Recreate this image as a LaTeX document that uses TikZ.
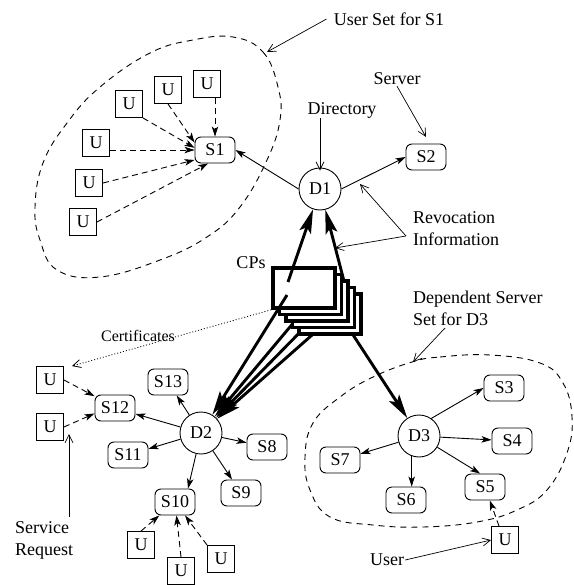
\documentclass[tikz,border=0pt]{standalone}
\usepackage{fontspec}
\setmainfont{Liberation Serif}
\usetikzlibrary{arrows.meta}
\begin{document}
\begin{tikzpicture}[x=1pt,y=-1pt,
  font=\fontsize{18}{22}\selectfont,
  srv/.style={draw, line width=0.9pt, rounded corners=6pt, minimum width=40pt, minimum height=26pt, inner sep=2pt},
  usr/.style={draw, line width=0.9pt, minimum size=27pt, inner sep=0pt},
  dirnode/.style={draw, circle, line width=0.9pt, minimum size=42pt, inner sep=0pt},
  cpbox/.style={draw, line width=3.6pt, fill=white, minimum width=62pt, minimum height=40pt, inner sep=0pt},
  lbl/.style={inner sep=1pt},
  sarr/.style={line width=0.9pt, -{Stealth[length=10pt,width=6.5pt,inset=2.5pt]}},
  darr/.style={sarr, dash pattern=on 6pt off 4pt},
  tarr/.style={line width=2.9pt, -{Stealth[length=24pt,width=12pt,inset=5pt]}},
  narr/.style={line width=0.7pt, -{Straight Barb[length=8pt,width=8pt]}},
  blob/.style={line width=0.9pt, dash pattern=on 6pt off 5pt},
]
\useasboundingbox (0,0) rectangle (573,585);

% dashed sets
\draw[blob] plot[smooth cycle, tension=0.7] coordinates {(233,37) (263,52) (278,87) (280,120) (267,160) (240,207) (207,237) (160,260) (100,277) (57,270) (40,240) (35,207) (43,163) (67,123) (100,87) (150,53) (193,40)};
\draw[blob] plot[smooth cycle, tension=0.7] coordinates {(412,362) (440,357) (490,355) (540,363) (563,383) (572,417) (567,453) (547,490) (517,510) (477,522) (423,527) (373,525) (330,517) (310,490) (305,457) (313,423) (340,397) (373,377)};

% directories
\node[dirnode] (D1) at (320,189) {D1};
\node[dirnode] (D2) at (201,433) {D2};
\node[dirnode] (D3) at (419,436) {D3};

% servers
\node[srv] (S1) at (215,150) {S1};
\node[srv] (S2) at (426,157) {S2};
\node[srv] (S3) at (504,388) {S3};
\node[srv] (S4) at (512,441) {S4};
\node[srv] (S5) at (485,487) {S5};
\node[srv] (S6) at (406,500) {S6};
\node[srv] (S7) at (340,460) {S7};
\node[srv] (S8) at (267,447) {S8};
\node[srv] (S9) at (241,493) {S9};
\node[srv] (S10) at (175,502) {S10};
\node[srv] (S11) at (128,455) {S11};
\node[srv] (S12) at (115,408) {S12};
\node[srv] (S13) at (168,382) {S13};

% users
\node[usr] (u1) at (207,84) {U};
\node[usr] (u2) at (168,90) {U};
\node[usr] (u3) at (129,104) {U};
\node[usr] (u4) at (96,143) {U};
\node[usr] (u5) at (89,183) {U};
\node[usr] (u6) at (83,222) {U};
\node[usr] (ua) at (50,380) {U};
\node[usr] (ub) at (50,427) {U};
\node[usr] (uc) at (141,545) {U};
\node[usr] (ud) at (181,571) {U};
\node[usr] (ue) at (221,559) {U};
\node[usr] (uf) at (505,540) {U};

% labels
\node[lbl] (lblUS) at (389,19) {User Set for S1};
\node[lbl] (lblSrv) at (397,79) {Server};
\node[lbl] (lblDir) at (342,110) {Directory};
\node[lbl, align=left, anchor=west] (lblRev) at (412,229) {Revocation\\Information};
\node[lbl] (lblCP) at (251,263) {CPs};
\node[lbl, align=left, anchor=west] (lblDep) at (412,308) {Dependent Server\\Set for D3};
\node[lbl, align=left, anchor=west] (lblSR) at (14,540) {Service\\Request};
\node[lbl] (lblUser) at (387,560) {User};
\node[lbl, font=\fontsize{16}{19}\selectfont] (lblCert) at (138,336) {Certificates};

% directory -> server
\draw[sarr] (D1.west) -- (S1.east);
\draw[sarr] (D1.east) -- (S2.west);
\draw[sarr] (D2) -- (S13);
\draw[sarr] (D2) -- (S12);
\draw[sarr] (D2) -- (S11);
\draw[sarr] (D2) -- (S10.46);
\draw[sarr] (D2) -- (S9);
\draw[sarr] (D2) -- (S8);
\draw[sarr] (D3.55) -- (S3.west);
\draw[sarr] (D3) -- (S4);
\draw[sarr] (D3) -- (S5.110);
\draw[sarr] (D3.250) -- (D3.250 |- S6.north);
\draw[sarr] (D3) -- (S7);

% user -> server requests
\draw[darr] (u1.south -| S1.north) -- (S1.north);
\draw[darr] (u2.south) -- (S1.160);
\draw[darr] (u3.south east) -- (S1.174);
\draw[darr] (u4.east |- S1.west) -- (S1.west);
\draw[darr] (u5.east) -- (S1.206);
\draw[darr] (u6.east) -- (S1.243);
\draw[darr] (ua.east) -- (S12.150);
\draw[darr] (ub.east) -- (S12.195);
\draw[darr] (uc.north) -- (S10);
\draw[darr] (ud.north) -- (S10);
\draw[darr] (ue.north west) -- (S10);
\draw[darr] ([xshift=-6pt]uf.north) -- (S5);

% annotation arrows
\coordinate (tipUS) at (267,52);
\coordinate (tipSrv) at (426,137);
\coordinate (dirStart) at (320,118);
\coordinate (revO) at (406,236);
\coordinate (tipRev1) at (360,184);
\coordinate (tipRev2) at (335,248);
\coordinate (depO) at (445,328);
\coordinate (tipDep) at (413,362);
\coordinate (srO) at (69,517);
\coordinate (tipSR) at (69,434);
\draw[narr] ([xshift=-6pt]lblUS.west) -- (tipUS);
\draw[narr] (lblSrv.south) -- (tipSrv);
\draw[narr] (dirStart) -- ([yshift=-3pt]D1.north);
\draw[narr] (revO) -- (tipRev1);
\draw[narr] (revO) -- (tipRev2);
\draw[narr] (depO) -- (tipDep);
\draw[narr] (srO) -- (tipSR);
\draw[narr] (lblUser.east) -- (uf.west);

% thick certificate-provider arrows hidden behind the stack
\coordinate (h1) at (345,285);
\coordinate (h2) at (342,318);
\coordinate (h3) at (300,315);
\coordinate (h4) at (310,322);
\coordinate (h5) at (320,328);
\draw[tarr] (h1) -- (D1);
\draw[tarr] (h2) -- (D3);
\draw[tarr] (h3) -- (D2);
\draw[tarr] (h4) -- (D2);
\draw[tarr] (h5) -- (D2);

% CP stack
\node[cpbox] (cp4) at (330,314) {};
\node[cpbox] (cp3) at (323.5,307.5) {};
\node[cpbox] (cp2) at (317,301) {};
\node[cpbox] (cp1) at (310.5,294.5) {};
\node[cpbox] (cp0) at (304,288) {};

% visible thick arrows from the front CP
\coordinate (v1) at (288,282);
\coordinate (v2) at (287,295);
\draw[tarr] (v1) -- (D1);
\draw[tarr] (v2) -- (D2);

% certificates
\draw[line width=0.8pt, dash pattern=on 1pt off 2pt, -{Straight Barb[length=8pt,width=8pt]}] (cp0.south west) -- ([xshift=8pt]ua.north east);
\end{tikzpicture}
\end{document}
